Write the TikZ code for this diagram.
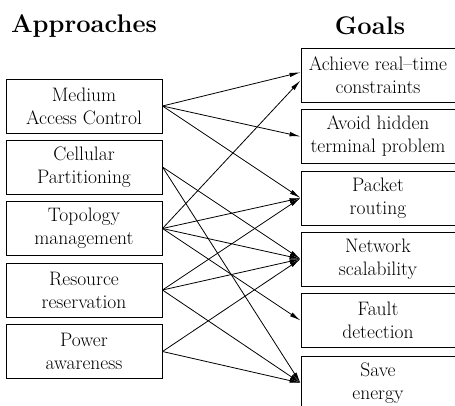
\documentclass[tikz,border=0pt]{standalone}
\usepackage{fontspec}
\usetikzlibrary{arrows.meta}

\begin{document}
\begin{tikzpicture}[x=1pt,y=-1pt,
    box/.style={draw, line width=1pt, minimum width=156pt, minimum height=54pt,
                inner sep=0pt, align=center, font=\fontsize{19.5}{23}\selectfont},
    title/.style={font=\fontsize{25.5}{30}\selectfont\bfseries},
    link/.style={line width=0.8pt, -{Latex[length=11pt,width=4.5pt]}}]
    \useasboundingbox (0,0) rectangle (455,405);

    \node[title] (appr) at (84,26) {Approaches};
    \node[title] (goals) at (370,26) {Goals};

    % approaches
    \node[box] (mac)  at (84,106)   {Medium\\Access Control};
    \node[box] (cell) at (84,167)   {Cellular\\Partitioning};
    \node[box] (topo) at (84,228.5) {Topology\\management};
    \node[box] (res)  at (84,290)   {Resource\\reservation};
    \node[box] (pow)  at (84,351.5) {Power\\awareness};

    % goals
    \node[box, minimum width=154pt] (rt)     at (378,75)    {Achieve real--time\\constraints};
    \node[box, minimum width=154pt] (hidden) at (378,136.5) {Avoid hidden\\terminal problem};
    \node[box, minimum width=154pt] (route)  at (378,198)   {Packet\\routing};
    \node[box, minimum width=154pt] (scal)   at (378,259)   {Network\\scalability};
    \node[box, minimum width=154pt] (fault)  at (378,320.5) {Fault\\detection};
    \node[box, minimum width=154pt] (save)   at (378,383)   {Save\\energy};

    \draw[link] (mac.east) -- (rt.178);
    \draw[link] (mac.east) -- (hidden.west);
    \draw[link] (mac.east) -- (route.west);
    \draw[link] (cell.east) -- (scal.west);
    \draw[link] (cell.east) -- (save.west);
    \draw[link] (topo.east) -- (rt.184);
    \draw[link] (topo.east) -- (route.west);
    \draw[link] (topo.east) -- (scal.west);
    \draw[link] (topo.east) -- (fault.west);
    \draw[link] (res.east) -- (route.west);
    \draw[link] (res.east) -- (scal.west);
    \draw[link] (res.east) -- (save.west);
    \draw[link] (pow.east) -- (scal.west);
    \draw[link] (pow.east) -- (save.west);
\end{tikzpicture}
\end{document}
